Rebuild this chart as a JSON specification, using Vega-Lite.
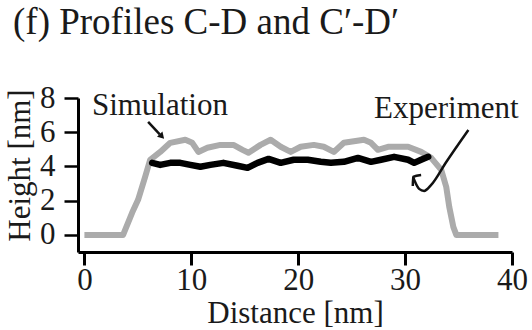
{
  "$schema": "https://vega.github.io/schema/vega-lite/v6.json",
  "width": 434,
  "height": 154,
  "autosize": "none",
  "padding": {"left": 78, "top": 98, "right": 20, "bottom": 78},
  "config": {"view": {"stroke": null}, "font": "Liberation Serif"},
  "title": {"text": "(f) Profiles C-D and C′-D′", "anchor": "start", "frame": "group", "fontSize": 37, "fontWeight": "normal", "font": "Liberation Serif", "color": "#1a1a1a", "dx": -65, "offset": 40},
  "datasets": {
    "sim": [
      {"distance": 0, "height": 0}, {"distance": 3.62, "height": 0}, {"distance": 4.46, "height": 1.29}, {"distance": 5.02, "height": 2.05},
      {"distance": 5.68, "height": 3.39}, {"distance": 6.15, "height": 4.39}, {"distance": 7.09, "height": 4.85}, {"distance": 8.03, "height": 5.38},
      {"distance": 9.44, "height": 5.56}, {"distance": 10.09, "height": 5.38}, {"distance": 10.66, "height": 4.85}, {"distance": 11.5, "height": 5.09},
      {"distance": 12.72, "height": 5.26}, {"distance": 13.94, "height": 5.26}, {"distance": 14.79, "height": 4.97}, {"distance": 15.35, "height": 4.8},
      {"distance": 16.48, "height": 5.26}, {"distance": 17.42, "height": 5.56}, {"distance": 18.36, "height": 5.15}, {"distance": 19.3, "height": 4.85},
      {"distance": 20.23, "height": 5.15}, {"distance": 21.46, "height": 5.26}, {"distance": 22.39, "height": 5.15}, {"distance": 23.33, "height": 4.85},
      {"distance": 24.27, "height": 5.38}, {"distance": 26.15, "height": 5.56}, {"distance": 26.81, "height": 5.38}, {"distance": 27.46, "height": 4.97},
      {"distance": 28.4, "height": 5.15}, {"distance": 30.28, "height": 5.15}, {"distance": 31.5, "height": 4.85}, {"distance": 32.44, "height": 4.5},
      {"distance": 33.38, "height": 3.8}, {"distance": 33.85, "height": 2.8}, {"distance": 34.13, "height": 1.64}, {"distance": 34.51, "height": 0.47},
      {"distance": 34.79, "height": 0}, {"distance": 38.73, "height": 0}
    ],
    "exp": [
      {"distance": 6.34, "height": 4.21}, {"distance": 7.09, "height": 4.09}, {"distance": 8.03, "height": 4.21}, {"distance": 8.97, "height": 4.21},
      {"distance": 9.91, "height": 4.09}, {"distance": 10.85, "height": 3.98}, {"distance": 11.78, "height": 4.09}, {"distance": 13.0, "height": 4.21},
      {"distance": 14.32, "height": 4.04}, {"distance": 15.26, "height": 3.92}, {"distance": 16.2, "height": 4.21}, {"distance": 17.23, "height": 4.44},
      {"distance": 18.36, "height": 4.21}, {"distance": 19.58, "height": 4.39}, {"distance": 20.89, "height": 4.39}, {"distance": 22.11, "height": 4.27},
      {"distance": 23.05, "height": 4.21}, {"distance": 24.27, "height": 4.27}, {"distance": 25.59, "height": 4.5}, {"distance": 26.81, "height": 4.27},
      {"distance": 27.75, "height": 4.39}, {"distance": 28.97, "height": 4.56}, {"distance": 30.28, "height": 4.39}, {"distance": 30.85, "height": 4.21},
      {"distance": 31.5, "height": 4.39}, {"distance": 32.16, "height": 4.56}
    ],
    "arrows": [
      {"path": "sim", "step": 1, "distance": 5.96, "height": 6.6},
      {"path": "sim", "step": 2, "distance": 7.05, "height": 5.88},
      {"path": "exp", "step": 1, "distance": 35.92, "height": 6.13},
      {"path": "exp", "step": 2, "distance": 33.85, "height": 4.26},
      {"path": "exp", "step": 3, "distance": 32.44, "height": 2.92},
      {"path": "exp", "step": 4, "distance": 31.78, "height": 2.57},
      {"path": "exp", "step": 5, "distance": 31.31, "height": 2.69},
      {"path": "exp", "step": 6, "distance": 30.94, "height": 3.09},
      {"path": "exp", "step": 7, "distance": 30.75, "height": 3.39},
      {"path": "exphead", "step": 1, "distance": 31.5, "height": 3.5},
      {"path": "exphead", "step": 2, "distance": 30.75, "height": 3.39},
      {"path": "exphead", "step": 3, "distance": 30.72, "height": 2.86}
    ],
    "heads": [
      {"distance": 7.25, "height": 5.75}
    ],
    "labels": [
      {"distance": 0.7, "height": 7.0, "label": "Simulation"},
      {"distance": 27.1, "height": 6.83, "label": "Experiment"}
    ]
  },
  "encoding": {
    "x": {
      "field": "distance", "type": "quantitative",
      "scale": {"domain": [-0.6, 40], "nice": false, "zero": false},
      "axis": {"title": "Distance [nm]", "values": [0, 10, 20, 30, 40], "grid": false, "domainColor": "black", "domainWidth": 3, "tickColor": "black", "tickWidth": 3, "tickSize": 13, "labelFontSize": 31, "labelFont": "Liberation Serif", "labelColor": "#1a1a1a", "labelPadding": 0, "labelFlush": false, "labelOverlap": false, "titleFont": "Liberation Serif", "titleFontSize": 31, "titleFontWeight": "normal", "titleColor": "#1a1a1a", "titlePadding": 3}
    },
    "y": {
      "field": "height", "type": "quantitative",
      "scale": {"domain": [-1, 8], "nice": false, "zero": false},
      "axis": {"title": "Height [nm]", "values": [0, 2, 4, 6, 8], "grid": false, "domainColor": "black", "domainWidth": 3, "tickColor": "black", "tickWidth": 2.5, "tickSize": 14, "labelFontSize": 31, "labelFont": "Liberation Serif", "labelColor": "#1a1a1a", "labelPadding": 9, "labelFlush": false, "labelOverlap": false, "titleFont": "Liberation Serif", "titleFontSize": 31, "titleFontWeight": "normal", "titleColor": "#1a1a1a", "titlePadding": 3, "titleY": 67}
    }
  },
  "layer": [
    {"data": {"name": "sim"}, "mark": {"type": "line", "color": "#ababab", "strokeWidth": 6, "strokeJoin": "round"}},
    {"data": {"name": "exp"}, "mark": {"type": "line", "color": "black", "strokeWidth": 6.5, "strokeJoin": "round", "strokeCap": "round"}},
    {"data": {"name": "arrows"}, "mark": {"type": "line", "color": "#111111", "strokeWidth": 2.5, "interpolate": "monotone"}, "encoding": {"detail": {"field": "path"}, "order": {"field": "step", "type": "quantitative"}}},
    {"data": {"name": "heads"}, "mark": {"type": "point", "shape": "triangle-up", "filled": true, "color": "#111111", "size": 55, "angle": 137, "opacity": 1}},
    {"data": {"name": "labels"}, "mark": {"type": "text", "align": "left", "baseline": "alphabetic", "fontSize": 31, "font": "Liberation Serif", "color": "#1a1a1a"}, "encoding": {"text": {"field": "label"}}}
  ]
}
